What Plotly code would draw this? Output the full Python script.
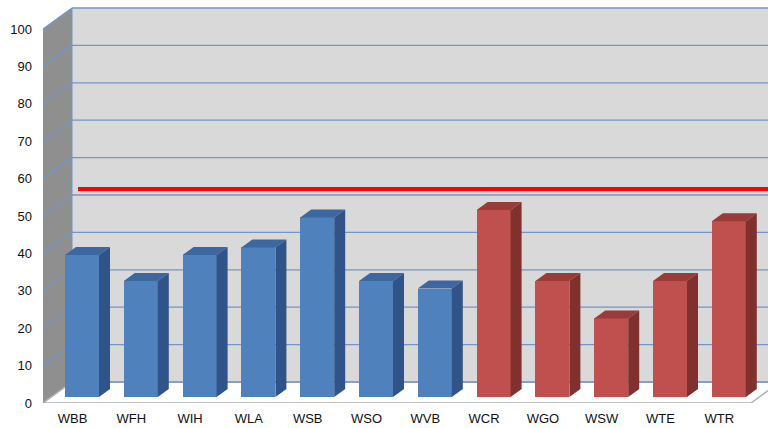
import plotly.graph_objects as go

# ---- data ----
categories = ["WBB", "WFH", "WIH", "WLA", "WSB", "WSO", "WVB",
              "WCR", "WGO", "WSW", "WTE", "WTR"]
values = [38, 31, 38, 40, 48, 31, 29, 50, 31, 21, 31, 47]
groups = ["blue"] * 7 + ["red"] * 5
target = 55.6
y_ticks = list(range(0, 101, 10))

# ---- styling / pseudo-3D geometry ----
FRONT = {"blue": "#4f81bd", "red": "#c0504d"}
TOP = {"blue": "#3c67a0", "red": "#9a3b38"}
SIDE = {"blue": "#30538a", "red": "#80302d"}
PX_PER_UNIT = 3.74
PX_PER_CAT = 58.8
X0_PX = 82
L, B = 43, 25
W, H = 768, 428
xr = [(L - X0_PX) / PX_PER_CAT, (W - X0_PX) / PX_PER_CAT]
yr = [0, (H - B) / PX_PER_UNIT]
BW = 34 / PX_PER_CAT
BDX = 11 / PX_PER_CAT
BDY = 8 / PX_PER_UNIT
BASE = 6 / PX_PER_UNIT
WDX = 29 / PX_PER_CAT
WDY = 21 / PX_PER_UNIT
FX = xr[0]
BX = FX + WDX
RX = xr[1] + 0.5
FLOOR_R = (751 - X0_PX) / PX_PER_CAT
LABEL_SHIFT = -9.5 / PX_PER_CAT

idx = list(range(len(categories)))
fig = go.Figure()

# front faces
fig.add_trace(go.Bar(
    x=idx, y=values, base=BASE, width=BW,
    marker=dict(color=[FRONT[g] for g in groups], line=dict(width=0)),
    hoverinfo="skip", showlegend=False))

# top and side faces
for g in ["blue", "red"]:
    tx, ty, sx, sy = [], [], [], []
    for i, v, gg in zip(idx, values, groups):
        if gg != g:
            continue
        top = BASE + v
        l, r = i - BW / 2, i + BW / 2
        tx += [l, r, r + BDX, l + BDX, l, None]
        ty += [top, top, top + BDY, top + BDY, top, None]
        sx += [r, r, r + BDX, r + BDX, r, None]
        sy += [BASE, top, top + BDY, BASE + BDY, BASE, None]
    fig.add_trace(go.Scatter(x=tx, y=ty, fill="toself", fillcolor=TOP[g],
                             mode="lines", line=dict(width=0),
                             hoverinfo="skip", showlegend=False))
    fig.add_trace(go.Scatter(x=sx, y=sy, fill="toself", fillcolor=SIDE[g],
                             mode="lines", line=dict(width=0),
                             hoverinfo="skip", showlegend=False))

shapes = []
# back wall
shapes.append(dict(type="rect", xref="x", yref="y", x0=BX, x1=RX,
                   y0=WDY, y1=100 + WDY, fillcolor="#d9d9d9",
                   line=dict(width=0), layer="below"))
# left wall
shapes.append(dict(type="path", xref="x", yref="y",
                   path=f"M{FX},0 L{FX},100 L{BX},{100+WDY} L{BX},{WDY} Z",
                   fillcolor="#8f8f8f", line=dict(width=0), layer="below"))
# floor
shapes.append(dict(type="path", xref="x", yref="y",
                   path=f"M{FX},0 L{FLOOR_R},0 L{FLOOR_R+WDX},{WDY} L{BX},{WDY} Z",
                   fillcolor="#ffffff", line=dict(color="#b0b0b0", width=1.5),
                   layer="below"))
# gridlines on back and left walls
grid_col = "#7396c8"
for v in y_ticks:
    if v > 0:
        shapes.append(dict(type="line", xref="x", yref="y", x0=FX, x1=BX,
                           y0=v, y1=v + WDY, line=dict(color=grid_col, width=1.3),
                           layer="below"))
    shapes.append(dict(type="line", xref="x", yref="y", x0=BX, x1=RX,
                       y0=v + WDY, y1=v + WDY,
                       line=dict(color=grid_col, width=1.3), layer="below"))
# wall edges
shapes.append(dict(type="line", xref="x", yref="y", x0=FX, x1=FX, y0=0, y1=100,
                   line=dict(color=grid_col, width=1.5), layer="below"))
shapes.append(dict(type="line", xref="x", yref="y", x0=BX, x1=BX, y0=WDY,
                   y1=100 + WDY, line=dict(color=grid_col, width=1), layer="below"))
# target line
shapes.append(dict(type="line", xref="x", yref="y",
                   x0=BX + (78 - 72) / PX_PER_CAT, x1=RX,
                   y0=BASE + target, y1=BASE + target,
                   line=dict(color="#ff0000", width=4), layer="above"))

fig.update_layout(
    width=W, height=H,
    margin=dict(l=L, r=0, t=0, b=B),
    paper_bgcolor="white", plot_bgcolor="white",
    font=dict(family="Liberation Sans, Arial, sans-serif", size=13, color="#111111"),
    shapes=shapes,
    bargap=0,
    xaxis=dict(range=xr, tickmode="array",
               tickvals=[i + LABEL_SHIFT for i in idx], ticktext=categories,
               showgrid=False, zeroline=False, showline=False, ticks="",
               ticklabelstandoff=6, fixedrange=True),
    yaxis=dict(range=yr, tickmode="array", tickvals=y_ticks,
               showgrid=False, zeroline=False, showline=False, ticks="",
               ticklabelstandoff=10, fixedrange=True),
)

fig.write_html("out.html")
